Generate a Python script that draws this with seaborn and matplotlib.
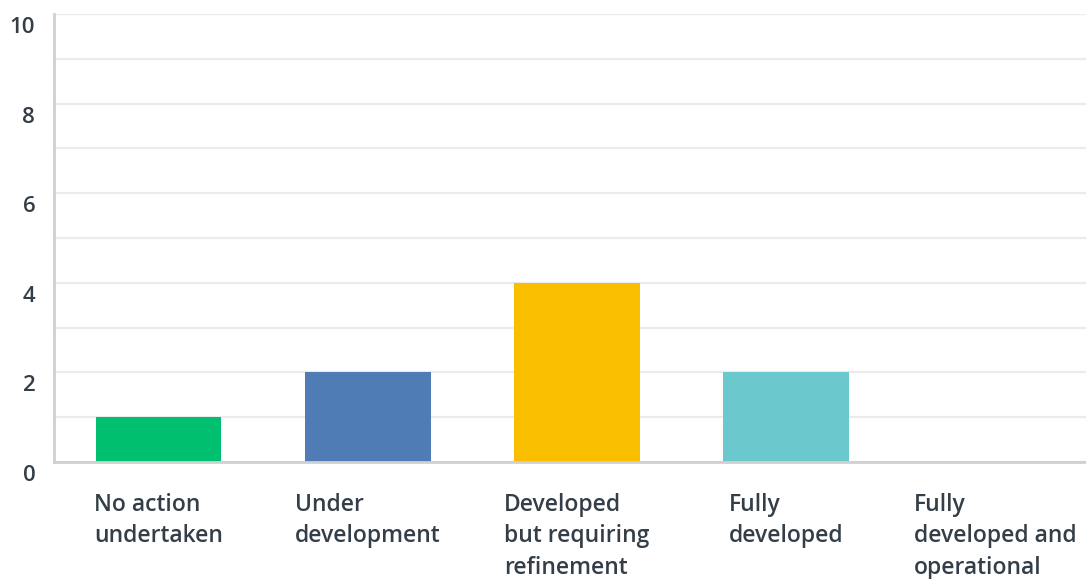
import matplotlib
matplotlib.use("Agg")
import matplotlib.pyplot as plt
import matplotlib.transforms as mtransforms
import seaborn as sns
import pandas as pd

categories = [
    "No action\nundertaken",
    "Under\ndevelopment",
    "Developed\nbut requiring\nrefinement",
    "Fully\ndeveloped",
    "Fully\ndeveloped and\noperational",
]
responses = [1, 2, 4, 2, 0]
bar_colors = ["#00BF6F", "#507CB6", "#F9BE00", "#6BC8CD", "#DADADA"]
y_ticks = [0, 2, 4, 6, 8, 10]

sns.set_theme(style="white")
plt.rcParams["font.family"] = ["Open Sans", "DejaVu Sans"]

text_color = "#333E48"
grid_color = "#EBEBEB"
spine_color = "#D0D0D0"

df = pd.DataFrame({"category": categories, "responses": responses})

fig = plt.figure(figsize=(10.86, 5.79), dpi=100)
ax = fig.add_axes([54 / 1086, 117 / 579, 1 - 54 / 1086, (462 - 14) / 579])

sns.barplot(
    data=df, x="category", y="responses", hue="category",
    palette=bar_colors, width=0.6, legend=False, ax=ax,
    saturation=1, edgecolor="none",
)

ax.set_xlim(-0.5, 4.433)
ax.set_ylim(0, 10)

# horizontal grid at every unit, labels only on even values
ax.set_yticks(range(0, 11), minor=True)
ax.set_yticks(y_ticks)
ax.set_yticklabels([str(v) for v in y_ticks])
ax.yaxis.grid(True, which="both", color=grid_color, linewidth=1.6)
ax.set_axisbelow(True)
ax.tick_params(axis="y", which="both", length=0, pad=13.5,
               labelsize=16, labelcolor=text_color)
offset = mtransforms.ScaledTranslation(0, -11 / 100, fig.dpi_scale_trans)
for lbl in ax.get_yticklabels():
    lbl.set_transform(lbl.get_transform() + offset)
    lbl.set_fontweight("semibold")

ax.tick_params(axis="x", length=0, pad=22, labelsize=16.5, labelcolor=text_color)
for lbl in ax.get_xticklabels():
    lbl.set_horizontalalignment("center")
    lbl.set_multialignment("left")
    lbl.set_fontweight("semibold")
    lbl.set_linespacing(1.42)

ax.set_xlabel("")
ax.set_ylabel("")
for side in ["top", "right"]:
    ax.spines[side].set_visible(False)
for side in ["left", "bottom"]:
    ax.spines[side].set_color(spine_color)
    ax.spines[side].set_linewidth(2)

fig.savefig("out.png", dpi=100, facecolor="white")
